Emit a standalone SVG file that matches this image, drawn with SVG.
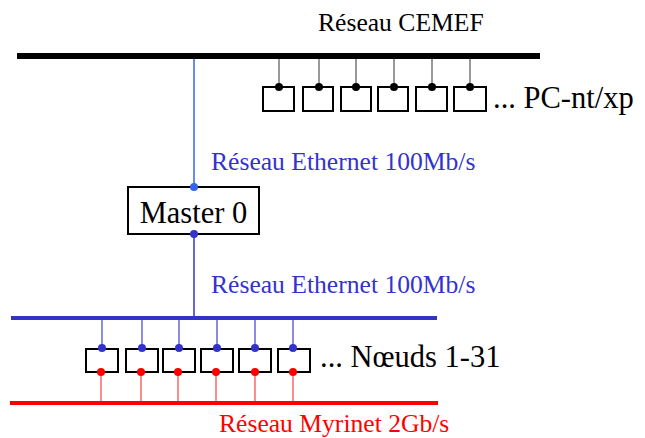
<svg xmlns="http://www.w3.org/2000/svg" width="645" height="438" viewBox="0 0 645 438">
<style>
text{font-family:"Liberation Serif","Times New Roman",serif}
.t{font-size:25.6px}
.big{font-size:30.5px}
.blue{fill:#3333cc}
.red{fill:#ff0000}
.box{fill:#fff;stroke:#000;stroke-width:2}
.gl{stroke:#777;stroke-width:1.5}
.bl{stroke:#6666dd;stroke-width:1.5}
.rl{stroke:#ff6666;stroke-width:1.5}
.bd{fill:#3333cc}
.rd{fill:#ff0000}
</style>
<g id="connectors">
<rect x="17" y="53" width="523" height="6" fill="#000"/>
<rect x="11" y="316" width="426" height="4" fill="#3333cc"/>
<rect x="10" y="401" width="428" height="4" fill="#ff0000"/>
<line x1="194" y1="59" x2="194" y2="187" stroke="#3366ee" stroke-width="1.5"/>
<line x1="194" y1="234" x2="194" y2="316" stroke="#3333cc" stroke-width="1.5"/>
<g class="gl">
<line x1="279" y1="59" x2="279" y2="87"/>
<line x1="319" y1="59" x2="319" y2="87"/>
<line x1="356" y1="59" x2="356" y2="87"/>
<line x1="394" y1="59" x2="394" y2="87"/>
<line x1="432" y1="59" x2="432" y2="87"/>
<line x1="470" y1="59" x2="470" y2="87"/>
</g>
<g class="bl">
<line x1="102" y1="320" x2="102" y2="348"/>
<line x1="142" y1="320" x2="142" y2="348"/>
<line x1="179" y1="320" x2="179" y2="348"/>
<line x1="217" y1="320" x2="217" y2="348"/>
<line x1="255" y1="320" x2="255" y2="348"/>
<line x1="293" y1="320" x2="293" y2="348"/>
</g>
<g class="rl">
<line x1="101" y1="372" x2="101" y2="401"/>
<line x1="141" y1="372" x2="141" y2="401"/>
<line x1="178" y1="372" x2="178" y2="401"/>
<line x1="216" y1="372" x2="216" y2="401"/>
<line x1="255" y1="372" x2="255" y2="401"/>
<line x1="293" y1="372" x2="293" y2="401"/>
</g>
</g>
<g id="label-cemef"><text class="t" x="318" y="31">Réseau CEMEF</text></g>
<g id="pcs">
<rect class="box" x="263" y="87" width="31" height="24"/>
<rect class="box" x="303" y="87" width="30" height="24"/>
<rect class="box" x="341" y="87" width="30" height="24"/>
<rect class="box" x="378" y="87" width="30" height="24"/>
<rect class="box" x="416" y="87" width="31" height="24"/>
<rect class="box" x="454" y="87" width="32" height="24"/>
<circle cx="279" cy="87" r="4"/>
<circle cx="319" cy="87" r="4"/>
<circle cx="356" cy="87" r="4"/>
<circle cx="394" cy="87" r="4"/>
<circle cx="432" cy="87" r="4"/>
<circle cx="470" cy="87" r="4"/>
<text class="big" x="493" y="108">... PC-nt/xp</text>
</g>
<g id="label-eth1"><text class="t blue" x="211" y="170">Réseau Ethernet 100Mb/s</text></g>
<g id="master">
<rect class="box" x="128" y="187" width="131" height="47"/>
<text class="big" x="193.5" y="223" text-anchor="middle" font-size="31">Master 0</text>
<circle cx="194" cy="187" r="4" fill="#3366ee"/>
<circle class="bd" cx="194" cy="234" r="4"/>
</g>
<g id="label-eth2"><text class="t blue" x="211" y="293">Réseau Ethernet 100Mb/s</text></g>
<g id="nodes">
<rect class="box" x="86" y="349" width="32" height="23"/>
<rect class="box" x="126" y="349" width="32" height="23"/>
<rect class="box" x="163" y="349" width="32" height="23"/>
<rect class="box" x="201" y="349" width="32" height="23"/>
<rect class="box" x="239" y="349" width="32" height="23"/>
<rect class="box" x="278" y="349" width="32" height="23"/>
<g class="bd">
<circle cx="102" cy="348" r="4"/>
<circle cx="142" cy="348" r="4"/>
<circle cx="179" cy="348" r="4"/>
<circle cx="217" cy="348" r="4"/>
<circle cx="255" cy="348" r="4"/>
<circle cx="293" cy="348" r="4"/>
</g>
<g class="rd">
<circle cx="101" cy="372" r="4"/>
<circle cx="141" cy="372" r="4"/>
<circle cx="178" cy="372" r="4"/>
<circle cx="216" cy="372" r="4"/>
<circle cx="255" cy="372" r="4"/>
<circle cx="293" cy="372" r="4"/>
</g>
<text class="big" x="320" y="367">... Nœuds 1-31</text>
</g>
<g id="label-myri"><text class="t red" x="219" y="432">Réseau Myrinet 2Gb/s</text></g>
</svg>
